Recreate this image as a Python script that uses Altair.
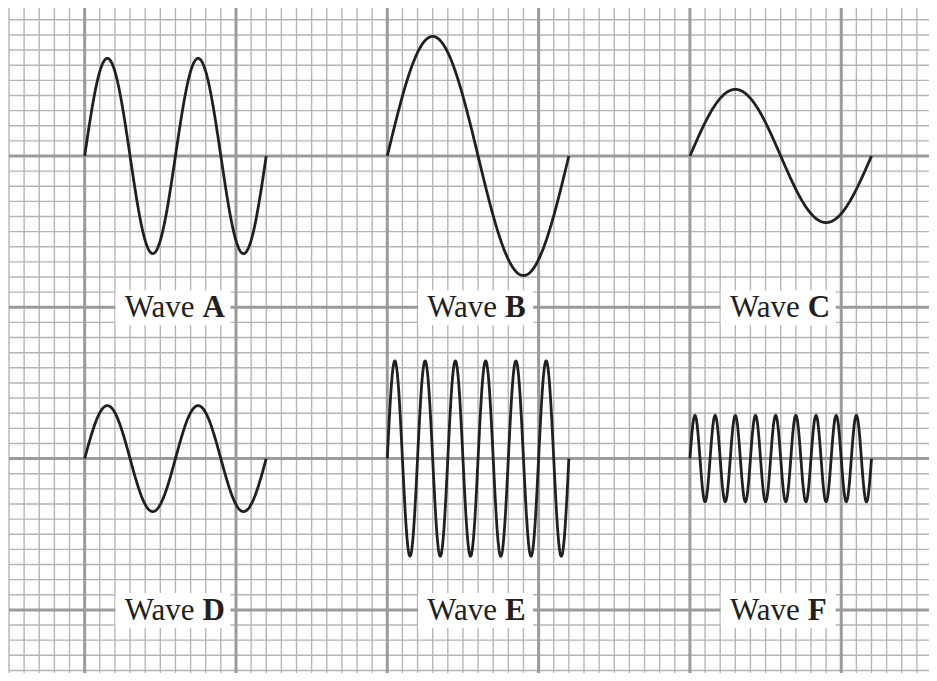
import altair as alt
import numpy as np
import pandas as pd

# ---- wave parameters (grid-cell units) ----
wave_names = ["A", "B", "C", "D", "E", "F"]
wave_x0 = [0, 20, 40, 0, 20, 40]          # start of each wave
wave_len = [12, 12, 12, 12, 12, 12]       # horizontal length
wave_base = [0, 0, 0, -20, -20, -20]      # baseline
wave_amp = [6.45, 7.9, 4.4, 3.5, 6.45, 2.85]
wave_cycles = [2, 1, 1, 2, 6, 9]

# ---- labels ----
label_letters = ["A", "B", "C", "D", "E", "F"]
label_x = [6, 26, 46, 6, 26, 46]
label_y = [-10, -10, -10, -30, -30, -30]

# ---- grid ----
x_min, x_max = -5, 55.80
y_min, y_max = -34.17, 9.78
minor_x = list(range(-5, 56))
minor_y = list(range(-34, 10))
major_x = [0, 10, 20, 30, 40, 50]
major_y = [0, -10, -20, -30]

rows = []
for n, x0, L, b, a, c in zip(wave_names, wave_x0, wave_len, wave_base, wave_amp, wave_cycles):
    t = np.linspace(0, 1, 600)
    for i, tt in enumerate(t):
        rows.append({"wave": n, "i": i, "x": x0 + L * tt,
                     "y": b + a * np.sin(2 * np.pi * c * tt)})
waves = pd.DataFrame(rows)
labels = pd.DataFrame({"letter": label_letters, "x": label_x, "y": label_y,
                       "word": ["Wave"] * len(label_letters)})

xs = alt.Scale(domain=[x_min, x_max], nice=False, zero=False)
ys = alt.Scale(domain=[y_min, y_max], nice=False, zero=False)

minor_v = alt.Chart(pd.DataFrame({"p": minor_x})).mark_rule(
    color="#b5b5b5", strokeWidth=1.4).encode(x=alt.X("p:Q", scale=xs, axis=None))
minor_h = alt.Chart(pd.DataFrame({"p": minor_y})).mark_rule(
    color="#b5b5b5", strokeWidth=1.4).encode(y=alt.Y("p:Q", scale=ys, axis=None))
major_v = alt.Chart(pd.DataFrame({"p": major_x})).mark_rule(
    color="#9b9b9b", strokeWidth=3).encode(x=alt.X("p:Q", scale=xs, axis=None))
major_h = alt.Chart(pd.DataFrame({"p": major_y})).mark_rule(
    color="#9b9b9b", strokeWidth=3).encode(y=alt.Y("p:Q", scale=ys, axis=None))

lines = alt.Chart(waves).mark_line(
    color="#231f20", strokeWidth=2.8, strokeCap="butt").encode(
    x=alt.X("x:Q", scale=xs, axis=None),
    y=alt.Y("y:Q", scale=ys, axis=None),
    detail="wave:N",
    order="i:Q",
)

boxes = alt.Chart(labels).mark_rect(
    color="white", xOffset=-60, x2Offset=55, yOffset=-17, y2Offset=18).encode(
    x=alt.X("x:Q", scale=xs, axis=None), x2="x:Q",
    y=alt.Y("y:Q", scale=ys, axis=None), y2="y:Q",
)

words = alt.Chart(labels).mark_text(
    font="Liberation Serif", fontSize=31, color="#231f20", align="right",
    baseline="alphabetic", dx=19, dy=10).encode(
    x=alt.X("x:Q", scale=xs, axis=None),
    y=alt.Y("y:Q", scale=ys, axis=None),
    text="word:N",
)
letters = alt.Chart(labels).mark_text(
    font="Liberation Serif", fontSize=31, fontWeight="bold", color="#231f20",
    align="left", baseline="alphabetic", dx=27, dy=10).encode(
    x=alt.X("x:Q", scale=xs, axis=None),
    y=alt.Y("y:Q", scale=ys, axis=None),
    text="letter:N",
)

chart = alt.layer(minor_v, minor_h, major_v, major_h, lines, boxes, words, letters).properties(
    width=920, height=665,
    padding={"left": 1, "top": 0, "right": 0, "bottom": 0},
    autosize=alt.AutoSizeParams(type="none"),
    background="white",
).configure_view(stroke=None)

chart.save("out.html", embed_options={"renderer": "svg", "actions": False})
